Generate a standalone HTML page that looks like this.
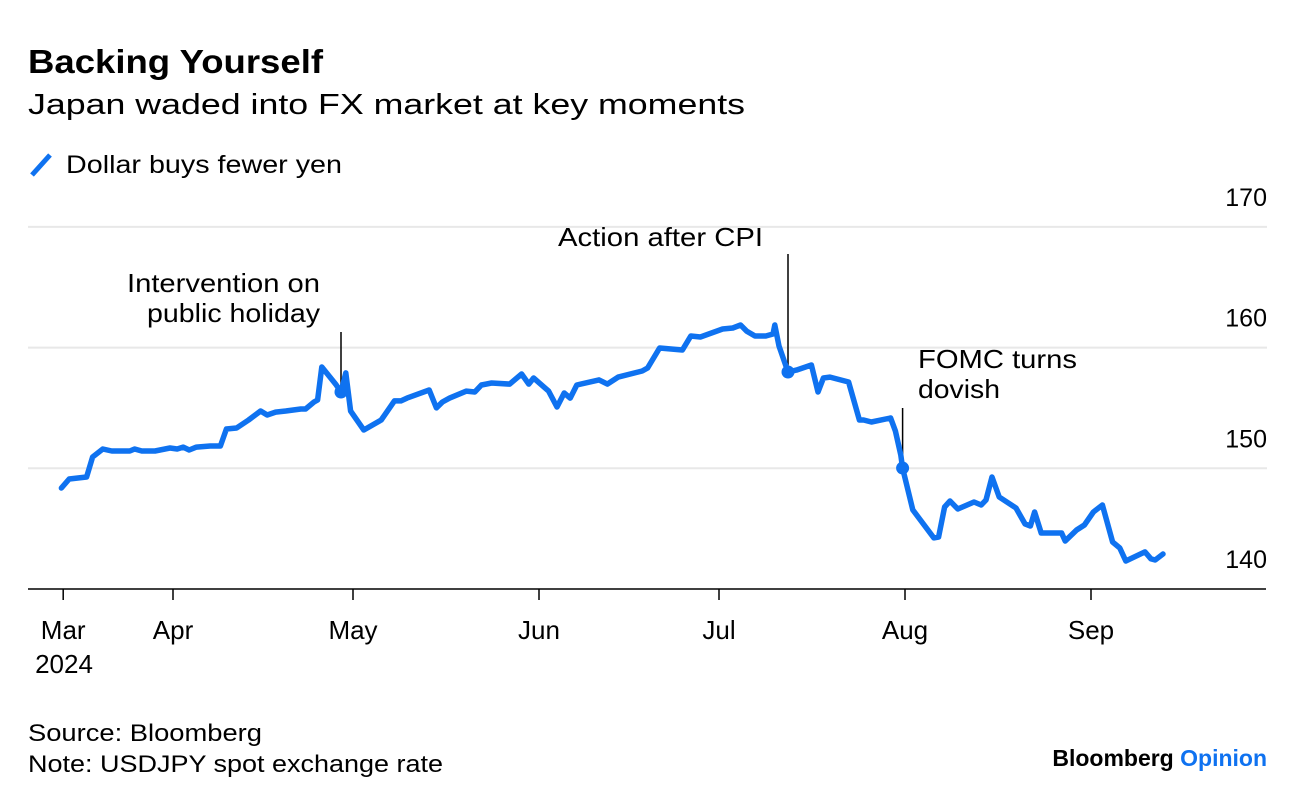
<!DOCTYPE html>
<html><head><meta charset="utf-8">
<style>
body{margin:0;background:#fff;width:1296px;height:802px;overflow:hidden;font-family:"Liberation Sans",sans-serif;}
svg{position:absolute;left:0;top:0}
</style></head>
<body>
<svg id="chart" width="1296" height="802">
<text x="28" y="73" font-size="33" font-weight="bold" fill="#000" textLength="295" lengthAdjust="spacingAndGlyphs">Backing Yourself</text>
<text x="28" y="114" font-size="29" fill="#000" textLength="717" lengthAdjust="spacingAndGlyphs">Japan waded into FX market at key moments</text>
<line x1="32" y1="175" x2="50" y2="155" stroke="#0F72F0" stroke-width="5"/>
<text x="66" y="173" font-size="25" fill="#000" textLength="276" lengthAdjust="spacingAndGlyphs">Dollar buys fewer yen</text>
<g id="grid"></g>
<g id="axes"></g>
<g id="annots"></g>
<path id="line" fill="none" stroke="#0F72F0" stroke-width="5.5" stroke-linejoin="round" stroke-linecap="round"/>
<g id="dots"></g>
<text x="28" y="741" font-size="24" fill="#000" textLength="234" lengthAdjust="spacingAndGlyphs">Source: Bloomberg</text>
<text x="28" y="772" font-size="24" fill="#000" textLength="415" lengthAdjust="spacingAndGlyphs">Note: USDJPY spot exchange rate</text>
<text x="1267" y="766" font-size="23" font-weight="bold" text-anchor="end"><tspan fill="#000">Bloomberg </tspan><tspan fill="#0F72F0">Opinion</tspan></text>
</svg>
<script>
// day offsets since Mar 1 2024
const days=[12.4,13.7,16.6,17.6,19.3,20.8,23.8,24.6,25.8,28.0,30.5,31.7,32.7,33.7,34.9,37.2,38.9,39.9,41.6,43.6,45.6,46.7,48.1,49.8,52.3,53.1,54.5,55.1,55.8,58.1,59.0,59.8,60.6,62.8,65.7,67.9,69.0,70.0,73.7,74.9,75.9,77.1,79.9,81.3,82.4,84.1,87.1,89.1,90.3,91.1,93.6,95.0,96.2,97.2,98.3,102.0,103.4,105.2,109.2,110.1,112.1,115.9,117.3,118.9,122.6,124.3,125.6,126.6,128.0,129.8,131.0,131.3,132.0,133.5,134.9,137.4,138.5,139.4,140.5,143.6,145.4,146.1,147.4,150.6,151.4,152.3,152.6,154.3,157.8,158.6,159.6,160.5,161.8,164.5,165.7,166.5,167.5,168.7,171.5,173.0,173.9,174.6,175.7,179.1,179.7,181.6,182.9,184.4,185.9,187.6,188.8,189.8,193.0,194.0,194.7,196.0];
const rates=[148.37,149.11,149.28,150.94,151.6,151.43,151.43,151.6,151.43,151.43,151.68,151.6,151.76,151.52,151.76,151.85,151.85,153.26,153.34,154.0,154.75,154.42,154.66,154.75,154.91,154.91,155.49,155.66,158.39,156.98,156.32,157.9,154.75,153.17,154.0,155.58,155.58,155.82,156.49,155.0,155.49,155.82,156.4,156.32,156.9,157.07,156.98,157.81,156.98,157.48,156.4,155.08,156.24,155.82,156.9,157.32,156.98,157.56,158.06,158.31,159.97,159.8,160.96,160.88,161.54,161.62,161.87,161.37,160.96,160.96,161.13,161.87,160.13,157.98,158.14,158.56,156.32,157.48,157.56,157.15,154.0,154.0,153.84,154.17,153.09,151.1,150.02,146.55,144.23,144.31,146.79,147.29,146.63,147.21,146.96,147.37,149.28,147.62,146.71,145.39,145.22,146.38,144.64,144.64,143.98,144.89,145.3,146.38,146.96,143.89,143.4,142.32,143.07,142.49,142.4,142.9];
const yTicks=[140,150,160,170];
const monthLabels=["Mar","Apr","May","Jun","Jul","Aug","Sep"];
const monthDays=[12.7,31,61,92,122,153,184];
const annotLabels=[["Intervention on","public holiday"],["Action after CPI"],["FOMC turns","dovish"]];
const annotDays=[59.0,133.5,152.6];
const annotRates=[156.32,157.98,150.02];

const X=d=>173+(d-31)*6.0;
const Y=v=>589-(v-140)*12.07;
const NS="http://www.w3.org/2000/svg";
function mk(tag,attrs,parent){const e=document.createElementNS(NS,tag);for(const k in attrs)e.setAttribute(k,attrs[k]);parent.appendChild(e);return e;}
const grid=document.getElementById('grid'),axes=document.getElementById('axes'),ann=document.getElementById('annots'),dots=document.getElementById('dots');
yTicks.forEach(t=>{
  if(t>140){const g=mk('line',{x1:28,x2:1267,y1:Y(t),y2:Y(t),stroke:'#e8e8e8','stroke-width':2},grid);
  
  }
  const l=mk('text',{x:1267,y:Y(t)-21,'font-size':25,'text-anchor':'end',fill:'#000'},axes);
  l.textContent=t;
  
  
});
const base=mk('line',{x1:28,x2:1266,y1:589,y2:589,stroke:'#000','stroke-width':1.5},axes);


monthDays.forEach((d,i)=>{
  const tk=mk('line',{x1:X(d),x2:X(d),y1:589,y2:600,stroke:'#000','stroke-width':1.5},axes);
  
  
  const l=mk('text',{x:X(d),y:639,'font-size':26,'text-anchor':'middle',fill:'#000'},axes);
  l.textContent=monthLabels[i];
  
  
});
const yr=mk('text',{x:64,y:673,'font-size':26,'text-anchor':'middle',fill:'#000'},axes);
yr.textContent='2024';


let dstr='';days.forEach((d,i)=>{dstr+=(i?'L':'M')+X(d).toFixed(1)+' '+Y(rates[i]).toFixed(1);});
document.getElementById('line').setAttribute('d',dstr);
const annTop=[332,254,408];
const annText=[{x:320,y:292,a:'end'},{x:763,y:246,a:'end'},{x:918,y:368,a:'start'}];
const annLens=[[193,173],[205],[159,82]];
annotDays.forEach((d,i)=>{
  const ln=mk('line',{x1:X(d),x2:X(d),y1:annTop[i],y2:Y(annotRates[i]),stroke:'#000','stroke-width':1.5},ann);
  
  
  annotLabels[i].forEach((s,j)=>{
    const t=mk('text',{x:annText[i].x,y:annText[i].y+j*30,'font-size':26,'text-anchor':annText[i].a,fill:'#000',textLength:annLens[i][j],lengthAdjust:'spacingAndGlyphs'},ann);
    t.textContent=s;
    
    
  });
  const c=mk('circle',{cx:X(d),cy:Y(annotRates[i]),r:6.5,fill:'#0F72F0'},dots);
  
  
});
</script>
</body></html>
